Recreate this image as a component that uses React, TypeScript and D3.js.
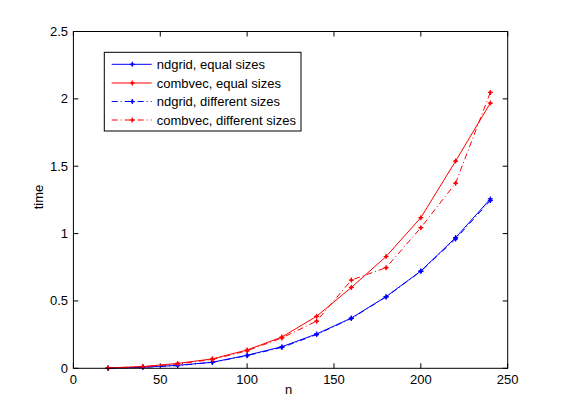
import React from "react";
import * as d3 from "d3";

const nValues = [20, 40, 60, 80, 100, 120, 140, 160, 180, 200, 220, 240];
const ndgridEqual = [0.001, 0.008, 0.022, 0.045, 0.097, 0.16, 0.255, 0.373, 0.532, 0.722, 0.97, 1.257];
const combvecEqual = [0.003, 0.013, 0.036, 0.07, 0.136, 0.232, 0.386, 0.6, 0.83, 1.118, 1.538, 1.969];
const ndgridDiff = [0.001, 0.007, 0.02, 0.044, 0.094, 0.155, 0.25, 0.37, 0.53, 0.72, 0.96, 1.245];
const combvecDiff = [0.003, 0.011, 0.032, 0.065, 0.13, 0.225, 0.35, 0.655, 0.747, 1.044, 1.374, 2.048];

const xTicks = [0, 50, 100, 150, 200, 250];
const yTicks = [0, 0.5, 1, 1.5, 2, 2.5];

const seriesNames = [
  "ndgrid, equal sizes",
  "combvec, equal sizes",
  "ndgrid, different sizes",
  "combvec, different sizes",
];
const seriesData = [ndgridEqual, combvecEqual, ndgridDiff, combvecDiff];
const seriesColors = ["#0000ff", "#ff0000", "#0000ff", "#ff0000"];
const seriesDash = [null, null, "6,3,1,3", "6,3,1,3"];

const W = 561;
const H = 414;
const L = 73.4;
const R = 507.7;
const T = 31.5;
const B = 368.3;
const FONT = "'Liberation Sans', Arial, Helvetica, sans-serif";

function Marker({ x, y, color }: { x: number; y: number; color: string }) {
  return (
    <g>
      <path d={`M${x - 2.5},${y}H${x + 2.5}M${x},${y - 2.5}V${y + 2.5}`} stroke={color} strokeWidth={1.2} />
      <circle cx={x} cy={y} r={1.5} fill={color} />
    </g>
  );
}

export default function App() {
  const x = d3.scaleLinear().domain([0, 250]).range([L, R]);
  const y = d3.scaleLinear().domain([0, 2.5]).range([B, T]);
  const line = d3
    .line<[number, number]>()
    .x((d) => x(d[0]))
    .y((d) => y(d[1]));

  const legX = 104.3;
  const legY = 52.3;
  const legW = 196.7;
  const legH = 78.7;
  const rowY = [64.3, 83, 101.5, 120];

  return (
    <svg
      width={W}
      height={H}
      style={{ position: "absolute", left: 0, top: 0, background: "#fff" }}
      fontFamily={FONT}
    >
      <rect x={0} y={0} width={W} height={H} fill="#fff" />
      {/* ticks */}
      {xTicks.map((t) => (
        <g key={"xt" + t}>
          <line x1={x(t)} x2={x(t)} y1={B} y2={B - 5} stroke="#000" />
          <line x1={x(t)} x2={x(t)} y1={T} y2={T + 5} stroke="#000" />
          <text x={x(t)} y={384} fontSize={13} textAnchor="middle" fill="#000">
            {t}
          </text>
        </g>
      ))}
      {yTicks.map((t) => (
        <g key={"yt" + t}>
          <line x1={L} x2={L + 5} y1={y(t)} y2={y(t)} stroke="#000" />
          <line x1={R} x2={R - 5} y1={y(t)} y2={y(t)} stroke="#000" />
          <text x={68} y={y(t) + 4.5} fontSize={13} textAnchor="end" fill="#000">
            {t}
          </text>
        </g>
      ))}
      {/* series */}
      {seriesData.map((vals, i) => {
        const pts = nValues.map((n, j) => [n, vals[j]] as [number, number]);
        return (
          <g key={"s" + i}>
            <path
              d={line(pts) || ""}
              fill="none"
              stroke={seriesColors[i]}
              strokeWidth={1}
              strokeDasharray={seriesDash[i] || undefined}
            />
            {pts.map((p, j) => (
              <Marker key={j} x={x(p[0])} y={y(p[1])} color={seriesColors[i]} />
            ))}
          </g>
        );
      })}
      {/* box */}
      <rect x={L} y={T} width={R - L} height={B - T} fill="none" stroke="#000" strokeWidth={1} />
      {/* axis labels */}
      <text x={288.5} y={394} fontSize={13} textAnchor="middle" fill="#000">
        n
      </text>
      <text
        transform={`translate(43,197) rotate(-90)`}
        fontSize={13}
        textAnchor="middle"
        fill="#000"
      >
        time
      </text>
      {/* legend */}
      <rect x={legX} y={legY} width={legW} height={legH} fill="#fff" stroke="#000" strokeWidth={1} />
      {seriesNames.map((name, i) => (
        <g key={"lg" + i}>
          <line
            x1={111.7}
            x2={151.7}
            y1={rowY[i]}
            y2={rowY[i]}
            stroke={seriesColors[i]}
            strokeWidth={1}
            strokeDasharray={seriesDash[i] || undefined}
          />
          <Marker x={132.3} y={rowY[i]} color={seriesColors[i]} />
          <text x={156.7} y={rowY[i] + 4.5} fontSize={13} fill="#000">
            {name}
          </text>
        </g>
      ))}
    </svg>
  );
}
